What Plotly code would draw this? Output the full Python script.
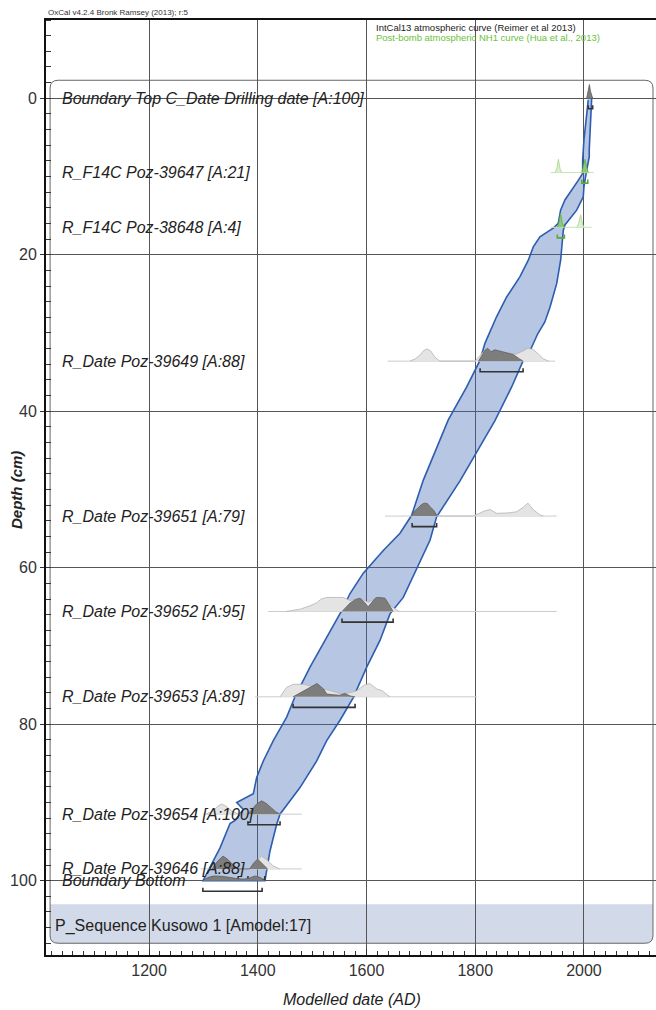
import plotly.graph_objects as go

# ---------------- data ----------------
X_RANGE = [1010.5, 2132.5]
Y_RANGE = [109.5, -10.0]
x_tick_vals = [1200, 1400, 1600, 1800, 2000]
y_tick_vals = [0, 20, 40, 60, 80, 100]

sample_labels = [
    "Boundary Top C_Date Drilling date [A:100]",
    "R_F14C Poz-39647 [A:21]",
    "R_F14C Poz-38648 [A:4]",
    "R_Date Poz-39649 [A:88]",
    "R_Date Poz-39651 [A:79]",
    "R_Date Poz-39652 [A:95]",
    "R_Date Poz-39653 [A:89]",
    "R_Date Poz-39654 [A:100]",
    "R_Date Poz-39646 [A:88]",
    "Boundary Bottom",
]
sample_depths = [0, 9.5, 16.5, 33.6, 53.4, 65.6, 76.5, 91.5, 98.5, 100]
sample_is_f14c = [False, True, True, False, False, False, False, False, False, False]

# baseline year ranges (None = no baseline)
baselines = [None, (1939, 2018), (1939, 2014), (1639, 1947), (1634, 1950),
             (1419, 1950), (1395, 1803), (1300, 1481), (1295, 1481), None]

# unmodelled (likelihood) distributions: years, relative heights (cm)
unmod_years = [
    None,
    [1947, 1950, 1953, 1956, 1959],
    [1987, 1990, 1994, 1997, 2000],
    [1680, 1690, 1700, 1706, 1712, 1718, 1726, 1735, 1800, 1808, 1815, 1823, 1830,
     1845, 1860, 1875, 1888, 1897, 1906, 1915, 1925, 1935],
    [1683, 1693, 1702, 1710, 1720, 1732, 1795, 1805, 1815, 1827, 1839, 1860, 1876,
     1888, 1897, 1907, 1919, 1925],
    [1452, 1478, 1496, 1508, 1517, 1527, 1545, 1557, 1570, 1588, 1603, 1622, 1634,
     1645, 1660],
    [1441, 1453, 1465, 1484, 1496, 1510, 1533, 1557, 1582, 1596, 1606, 1619, 1628, 1643],
    [1305, 1318, 1326, 1334, 1342, 1352, 1365, 1382, 1394, 1407, 1420, 1432, 1441],
    [1316, 1326, 1336, 1346, 1356, 1366, 1385, 1396, 1407, 1418, 1428, 1440],
    None,
]
unmod_heights = [
    None,
    [0, 0.5, 1.7, 0.5, 0],
    [0, 0.5, 1.6, 0.5, 0],
    [0, 0.3, 0.9, 1.4, 1.55, 1.3, 0.5, 0, 0, 0.6, 1.2, 1.5, 1.3,
     1.1, 1.0, 0.9, 1.3, 1.65, 1.5, 1.0, 0.3, 0],
    [0, 0.6, 1.2, 1.3, 0.8, 0, 0, 0.25, 0.6, 0.85, 0.35, 0.4, 0.55,
     1.1, 1.65, 0.8, 0.15, 0],
    [0, 0.3, 0.73, 1.1, 1.6, 1.8, 1.8, 1.8, 1.4, 1.7, 1.2, 1.8, 1.7, 0.7, 0],
    [0, 1.2, 1.6, 1.6, 1.4, 1.2, 0.8, 0.3, 0.77, 1.5, 1.7, 1.0, 0.8, 0],
    [0, 0.4, 1.0, 1.3, 1.0, 0.4, 0, 0, 0.9, 1.7, 1.2, 0.4, 0],
    [0, 0.9, 1.5, 1.1, 0.4, 0, 0, 0.9, 1.65, 1.1, 0.4, 0],
    None,
]

# modelled (posterior) distributions
mod_years = [
    [2005, 2008, 2010, 2012, 2016],
    [1996, 1999, 2002, 2005, 2008],
    [1951, 1954, 1957, 1960, 1964],
    [1806, 1812, 1818, 1823, 1829, 1836, 1845, 1858, 1870, 1880, 1888],
    [1683, 1688, 1695, 1700, 1706, 1712, 1718, 1724, 1730],
    [1555, 1562, 1570, 1580, 1588, 1596, 1603, 1610, 1617, 1622, 1634, 1643, 1649],
    [1465, 1484, 1496, 1509, 1521, 1527, 1540, 1551, 1560, 1570, 1579],
    [1382, 1390, 1398, 1407, 1415, 1425, 1433, 1441],
    [1316, 1325, 1336, 1345, 1355, 1364, 1385, 1393, 1400, 1408, 1418],
    [1299, 1308, 1320, 1335, 1350, 1362, 1375, 1385, 1395, 1405, 1413],
]
mod_heights = [
    [0, 0.9, 1.75, 0.9, 0],
    [0, 0.7, 1.7, 0.7, 0],
    [0, 0.6, 1.8, 0.6, 0],
    [0, 0.8, 1.4, 1.65, 1.2, 1.45, 1.3, 1.05, 0.85, 0.35, 0],
    [0, 0.6, 1.05, 1.4, 1.65, 1.6, 1.1, 0.7, 0],
    [0, 0.5, 1.1, 1.55, 1.7, 1.2, 0.6, 1.2, 1.75, 1.8, 1.7, 0.7, 0],
    [0, 0.77, 1.2, 1.7, 1.0, 0.35, 0.25, 0.2, 0.43, 0.1, 0],
    [0, 0.6, 1.3, 1.7, 1.4, 0.8, 0.3, 0],
    [0, 0.9, 1.65, 1.2, 0.5, 0, 0, 0.8, 1.25, 0.7, 0],
    [0, 0.4, 0.6, 0.55, 0.4, 0.25, 0.2, 0.35, 0.6, 0.4, 0],
]

# 95.4% ranges
ranges_95 = [
    [(2008, 2016)],
    [(1996, 2007)],
    [(1951, 1964)],
    [(1809, 1888)],
    [(1684, 1729)],
    [(1555, 1649)],
    [(1465, 1579)],
    [(1382, 1441)],
    [(1316, 1364), (1382, 1413)],
    [(1299, 1408)],
]

# age-depth envelope (95%)
env_left_depth = [0.22, 2.78, 5.3, 7.9, 9.6, 10.5, 11.8, 13.0, 14.3, 16.0, 16.6, 17.7,
                  19.0, 20.7, 22.8, 25.4, 27.9, 31.3, 33.5, 36.9, 41.1, 48.8, 53.3,
                  55.6, 57.8, 59.3, 60.7, 63.3, 65.5, 69.3, 72.7, 76.5, 79.1, 82.1,
                  84.7, 86.8, 88.9, 90.0, 90.9, 92.3, 92.7, 95.8, 97.9, 100.0]
env_left_year = [2007.9, 2003.7, 2000.0, 1997.6, 1997.6, 1989.5, 1977.4, 1965.0, 1957.0,
                 1952.7, 1943.5, 1919.0, 1906.8, 1897.6, 1882.3, 1857.8, 1839.4, 1818.0,
                 1808.7, 1784.3, 1750.4, 1704.5, 1683.1, 1661.6, 1630.9, 1612.5, 1594.1,
                 1569.7, 1554.4, 1523.7, 1496.1, 1468.5, 1453.2, 1428.6, 1410.2, 1398.0,
                 1391.8, 1361.3, 1373.4, 1358.2, 1349.0, 1330.6, 1315.3, 1299.3]
env_right_depth = [0.0, 2.4, 6.6, 7.5, 9.2, 11.3, 12.6, 14.3, 16.2, 16.9, 19.0, 20.7,
                   23.7, 26.7, 28.6, 30.1, 32.3, 33.5, 36.9, 41.2, 48.9, 53.5, 56.5,
                   60.1, 63.8, 65.9, 69.3, 72.7, 76.6, 79.5, 82.1, 84.7, 88.1, 91.5,
                   92.8, 96.2, 100.0]
env_right_year = [2014.2, 2012.3, 2009.7, 2009.7, 2005.0, 2000.0, 1998.7, 1986.6, 1965.0,
                  1962.0, 1959.5, 1957.1, 1949.8, 1937.5, 1928.0, 1915.0, 1900.7, 1888.4,
                  1867.0, 1836.3, 1772.0, 1729.0, 1716.8, 1692.3, 1667.7, 1643.2, 1624.8,
                  1600.4, 1575.7, 1551.3, 1526.8, 1508.4, 1477.7, 1440.9, 1434.8, 1422.5,
                  1413.3]
env_tip = (2011.0, -0.4)

# ---------------- styles ----------------
FONT = "Liberation Sans, Arial, Helvetica, sans-serif"
GRAY_BASE = "#cccccc"
GRAY_UNMOD_FILL, GRAY_UNMOD_LINE = "#e4e4e4", "#b3b3b3"
GRAY_MOD_FILL, GRAY_MOD_LINE = "#7d7d7d", "#5e5e5e"
GREEN_BASE = "#c6e4b3"
GREEN_UNMOD_FILL, GREEN_UNMOD_LINE = "#dcefd0", "#a8d68c"
GREEN_MOD_FILL, GREEN_MOD_LINE = "#8cc870", "#62b046"
BRACKET_GRAY, BRACKET_GREEN = "#333333", "#5aa83c"
BRACKET_OFFSET = 1.35
BRACKET_TICK = 0.45
LABEL_SIZE = 16

fig = go.Figure()

# envelope
env_x = env_left_year + env_right_year[::-1] + [env_tip[0]]
env_y = env_left_depth + env_right_depth[::-1] + [env_tip[1]]
fig.add_trace(go.Scatter(
    x=env_x, y=env_y, mode="lines", fill="toself",
    fillcolor="rgba(65,105,180,0.38)",
    line=dict(color="#2d5db0", width=1.6), hoverinfo="skip", showlegend=False))

for i, d in enumerate(sample_depths):
    green = sample_is_f14c[i]
    if baselines[i] is not None:
        a, b = baselines[i]
        fig.add_trace(go.Scatter(
            x=[a, b], y=[d, d], mode="lines",
            line=dict(color=GREEN_BASE if green else GRAY_BASE, width=1),
            hoverinfo="skip", showlegend=False))
    if unmod_years[i] is not None:
        fig.add_trace(go.Scatter(
            x=unmod_years[i], y=[d - h for h in unmod_heights[i]],
            mode="lines", fill="toself",
            fillcolor=GREEN_UNMOD_FILL if green else GRAY_UNMOD_FILL,
            line=dict(color=GREEN_UNMOD_LINE if green else GRAY_UNMOD_LINE, width=0.8),
            hoverinfo="skip", showlegend=False))
    fig.add_trace(go.Scatter(
        x=mod_years[i], y=[d - h for h in mod_heights[i]],
        mode="lines", fill="toself",
        fillcolor=GREEN_MOD_FILL if green else GRAY_MOD_FILL,
        line=dict(color=GREEN_MOD_LINE if green else GRAY_MOD_LINE, width=0.8),
        hoverinfo="skip", showlegend=False))
    bx, by = [], []
    yb = d + BRACKET_OFFSET
    for (a, b) in ranges_95[i]:
        bx += [a, a, b, b, None]
        by += [yb - BRACKET_TICK, yb, yb, yb - BRACKET_TICK, None]
    fig.add_trace(go.Scatter(
        x=bx, y=by, mode="lines",
        line=dict(color=BRACKET_GREEN if green else BRACKET_GRAY, width=1.6),
        hoverinfo="skip", showlegend=False))

# label annotations
for lab, d in zip(sample_labels, sample_depths):
    fig.add_annotation(
        x=1036, y=d, xref="x", yref="y", text="<i>" + lab + "</i>",
        showarrow=False, xanchor="left", yanchor="middle",
        font=dict(family=FONT, size=LABEL_SIZE, color="#222222"))

fig.add_annotation(
    x=1024, y=105.8, xref="x", yref="y", text="P_Sequence Kusowo 1 [Amodel:17]",
    showarrow=False, xanchor="left", yanchor="middle",
    font=dict(family=FONT, size=LABEL_SIZE, color="#222222"))

# rounded sequence box and P_Sequence band
x0, x1, y0, y1, rx, ry = 1018.0, 2127.0, -2.3, 108.0, 15.0, 1.0
box_path = (f"M {x0+rx},{y0} L {x1-rx},{y0} Q {x1},{y0} {x1},{y0+ry} "
            f"L {x1},{y1-ry} Q {x1},{y1} {x1-rx},{y1} L {x0+rx},{y1} "
            f"Q {x0},{y1} {x0},{y1-ry} L {x0},{y0+ry} Q {x0},{y0} {x0+rx},{y0} Z")
band_top = 103.0
band_path = (f"M {x0},{band_top} L {x1},{band_top} L {x1},{y1-ry} Q {x1},{y1} {x1-rx},{y1} "
             f"L {x0+rx},{y1} Q {x0},{y1} {x0},{y1-ry} Z")
fig.add_shape(type="path", path=band_path, xref="x", yref="y", layer="below",
              fillcolor="#d2d9e8", line=dict(width=0))
fig.add_shape(type="path", path=box_path, xref="x", yref="y", layer="below",
              line=dict(color="#666666", width=1))

# header texts
fig.add_annotation(x=0, y=1.0, xref="paper", yref="paper", yanchor="bottom",
                   xanchor="left", yshift=1, showarrow=False,
                   text="OxCal v4.2.4 Bronk Ramsey (2013); r:5",
                   font=dict(family=FONT, size=8, color="#333333"))
fig.add_annotation(x=0.537, y=0.9925, xref="paper", yref="paper", yanchor="middle",
                   xanchor="left", showarrow=False,
                   text="IntCal13 atmospheric curve (Reimer et al 2013)",
                   font=dict(family=FONT, size=9.5, color="#222222"))
fig.add_annotation(x=0.537, y=0.9815, xref="paper", yref="paper", yanchor="middle",
                   xanchor="left", showarrow=False,
                   text="Post-bomb atmospheric NH1 curve (Hua et al., 2013)",
                   font=dict(family=FONT, size=9.5, color="#6cbf3c"))

# axis titles
fig.add_annotation(x=-0.048, y=0.497, xref="paper", yref="paper", textangle=-90,
                   xanchor="center", yanchor="middle",
                   showarrow=False, text="<b><i>Depth (cm)</i></b>",
                   font=dict(family=FONT, size=15, color="#222222"))
fig.add_annotation(x=0.502, y=-0.048, xref="paper", yref="paper",
                   xanchor="center", yanchor="middle",
                   showarrow=False, text="<i>Modelled date (AD)</i>",
                   font=dict(family=FONT, size=16, color="#222222"))

fig.update_xaxes(
    range=X_RANGE, tickvals=x_tick_vals, ticktext=[str(v) for v in x_tick_vals],
    showgrid=True, gridcolor="#555555", gridwidth=1, zeroline=False,
    showline=True, linecolor="#111111", linewidth=2, mirror=True,
    ticks="inside", ticklen=6, tickcolor="#333333",
    minor=dict(dtick=20, tick0=0, ticks="inside", ticklen=4, tickcolor="#333333", showgrid=False),
    tickfont=dict(family=FONT, size=16, color="#333333"))
fig.update_yaxes(
    range=Y_RANGE, tickvals=y_tick_vals, ticktext=[str(v) for v in y_tick_vals],
    showgrid=True, gridcolor="#555555", gridwidth=1, zeroline=False,
    showline=True, linecolor="#111111", linewidth=2,
    ticks="outside", ticklen=4, tickcolor="#333333",
    minor=dict(dtick=2, tick0=0, ticks="inside", ticklen=5, tickcolor="#333333", showgrid=False),
    tickfont=dict(family=FONT, size=16, color="#333333"))

fig.update_layout(
    width=656, height=1010,
    margin=dict(l=46, r=0, t=20, b=55),
    paper_bgcolor="white", plot_bgcolor="white",
    showlegend=False,
)

fig.write_html("out.html")
